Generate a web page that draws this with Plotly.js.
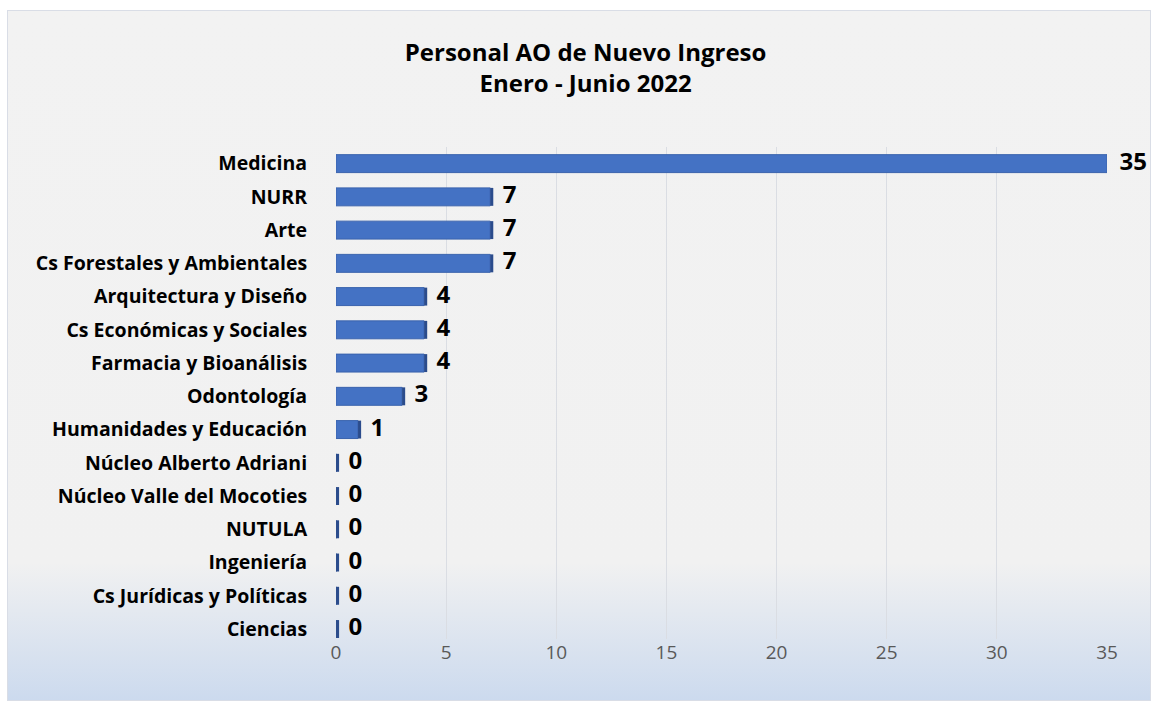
<!DOCTYPE html>
<html>
<head>
<meta charset="utf-8">
<script src="https://cdn.plot.ly/plotly-3.0.1.min.js"></script>
<style>
  html, body { margin:0; padding:0; width:1155px; height:706px; overflow:hidden; background:#ffffff; }
  #frame { position:absolute; left:7px; top:10px; width:1142px; height:689px; border:1px solid #d9dde6;
    background: linear-gradient(to bottom, #f2f2f2 0%, #f1f1f1 80%, #ccdaee 100%); }
  #chart { position:absolute; left:0; top:0; width:1155px; height:706px; }
</style>
</head>
<body>
<div id="frame"></div>
<div id="chart"></div>
<script>
const categories = ["Medicina","NURR","Arte","Cs Forestales y Ambientales","Arquitectura y Diseño",
  "Cs Económicas y Sociales","Farmacia y Bioanálisis","Odontología","Humanidades y Educación",
  "Núcleo Alberto Adriani","Núcleo Valle del Mocoties","NUTULA","Ingeniería","Cs Jurídicas y Políticas","Ciencias"];
const values = [35,7,7,7,4,4,4,3,1,0,0,0,0,0,0];
const xTicks = [0,5,10,15,20,25,30,35];
const depth = categories.map(() => 0.14);

const FONT = "'Open Sans', sans-serif";

const mainBars = {
  type:'bar', orientation:'h', y:categories, x:values, base:0,
  marker:{color:'#4472c4', line:{color:'#3a63ad', width:1}},
  hoverinfo:'x+y', showlegend:false
};
const capBars = {
  type:'bar', orientation:'h', y:categories, x:depth, base:values,
  marker:{color:'#2b4c8c', line:{width:0}},
  hoverinfo:'skip', showlegend:false, cliponaxis:false
};
const labels = {
  type:'scatter', mode:'text', y:categories, x:values,
  text:values.map(v => '\u00a0\u00a0' + v), textposition:'middle right', cliponaxis:false,
  textfont:{family:FONT, size:24, color:'#000000', weight:'bold'},
  hoverinfo:'skip', showlegend:false
};

const layout = {
  width:1155, height:706,
  paper_bgcolor:'rgba(0,0,0,0)', plot_bgcolor:'rgba(0,0,0,0)',
  margin:{l:336, r:48, t:147, b:67},
  barmode:'overlay', bargap:0.46,
  title:{text:'<b>Personal AO de Nuevo Ingreso<br>Enero - Junio 2022</b>',
    font:{family:FONT, size:24, color:'#000000'}, x:0.507, xanchor:'center',
    yref:'container', y:0.914, yanchor:'top'},
  xaxis:{range:[0,35], tickvals:xTicks, showgrid:true, gridcolor:'#dadde3', gridwidth:1,
    zeroline:false, showline:false, tickfont:{family:FONT, size:19, color:'#595959'},
    ticks:'', fixedrange:true},
  yaxis:{type:'category', categoryorder:'array', categoryarray:categories, range:[14.3,-0.5],
    showgrid:false, zeroline:false, showline:false,
    ticks:'outside', ticklen:24, tickcolor:'rgba(0,0,0,0)',
    tickfont:{family:FONT, size:19.5, color:'#000000', weight:'bold'}, fixedrange:true}
};

Plotly.newPlot('chart', [mainBars, capBars, labels], layout, {displayModeBar:false, staticPlot:true});
</script>
</body>
</html>
